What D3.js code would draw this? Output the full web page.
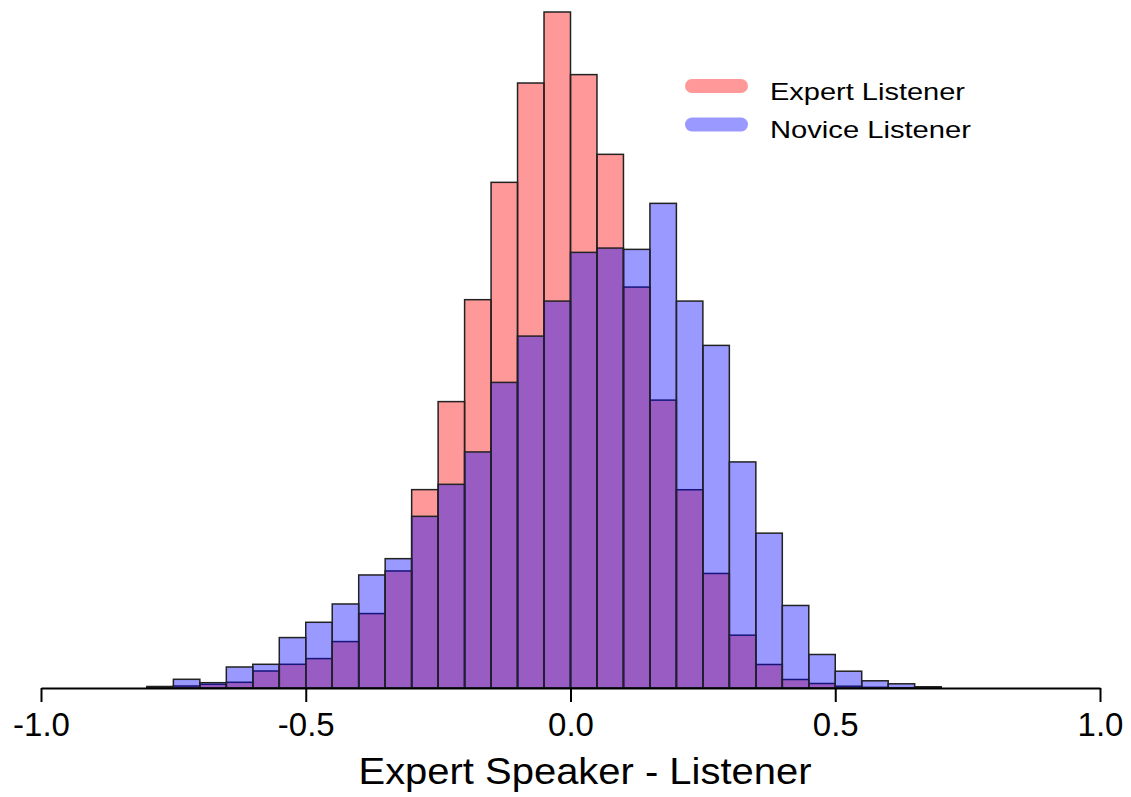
<!DOCTYPE html>
<html>
<head>
<meta charset="utf-8">
<script src="https://cdn.jsdelivr.net/npm/d3@7"></script>
<style>
  html, body { margin: 0; padding: 0; background: #fff; }
  text { font-family: "Liberation Sans", Arial, sans-serif; fill: #000; }
</style>
</head>
<body>
<svg id="chart" width="1131" height="797"></svg>
<script>
// Lower edges of histogram bins (width 0.05)
const binStarts = [-0.80, -0.75, -0.70, -0.65, -0.60, -0.55, -0.50, -0.45, -0.40, -0.35,
                   -0.30, -0.25, -0.20, -0.15, -0.10, -0.05, 0.00, 0.05, 0.10, 0.15,
                    0.20, 0.25, 0.30, 0.35, 0.40, 0.45, 0.50, 0.55, 0.60, 0.65];
const binWidth = 0.05;
// Bar heights (relative frequency units)
const expertListener = [1.5, 2, 3.7, 5.7, 17, 23.7, 29.4, 46.4, 74.4, 117,
                        198.3, 286.3, 388.2, 505.5, 604.8, 675.8, 613.2, 533.5, 400.8, 287.8,
                        198.2, 114.5, 52.8, 23.5, 8.5, 4.5, 1.8, 0.7, 0.3, 1.0];
const noviceListener = [1.0, 8.7, 5.3, 21, 23.7, 50.4, 65.7, 84, 113, 129.3,
                        171.6, 203.6, 236, 305.5, 351.8, 386.8, 435.5, 439.8, 438.5, 484.5,
                        386.8, 342.5, 226, 154.8, 82.5, 33.5, 16.8, 7.2, 4.2, 1.2];
const xTicks = [-1.0, -0.5, 0.0, 0.5, 1.0];
const seriesNames = ["Expert Listener", "Novice Listener"];
const seriesColors = ["rgba(255,0,0,0.4)", "rgba(0,0,255,0.4)"];
const legendColors = ["#ff9999", "#9999ff"];
const xLabel = "Expert Speaker - Listener";

const svg = d3.select("#chart");
const x = d3.scaleLinear().domain([-1, 1]).range([41, 1100]);
const y = d3.scaleLinear().domain([0, 675.8]).range([688, 12]);

const series = [expertListener, noviceListener];
series.forEach((vals, si) => {
  svg.append("g")
    .selectAll("rect")
    .data(binStarts.map((b, i) => ({ x0: b, x1: b + binWidth, v: vals[i] })))
    .join("rect")
    .attr("x", d => x(d.x0))
    .attr("width", d => x(d.x1) - x(d.x0))
    .attr("y", d => y(d.v))
    .attr("height", d => y(0) - y(d.v))
    .attr("fill", seriesColors[si])
    .attr("stroke", "#222")
    .attr("stroke-width", 1.5);
});

// Axis
const axis = d3.axisBottom(x)
  .tickValues(xTicks)
  .tickFormat(d => d3.format(".1f")(d).replace("\u2212", "-"))
  .tickSize(14)
  .tickSizeOuter(0);
const gAxis = svg.append("g").attr("transform", `translate(0,${y(0)})`).call(axis);
gAxis.select(".domain").attr("stroke", "#000").attr("stroke-width", 2);
gAxis.selectAll(".tick line").attr("stroke", "#000").attr("stroke-width", 2);
gAxis.selectAll(".tick text")
  .attr("y", 48).attr("dy", 0)
  .style("font-size", "33px")
  .style("font-family", '"Liberation Sans", Arial, sans-serif')
  .attr("fill", "#000");

// X label
svg.append("text")
  .attr("x", 585).attr("y", 784)
  .attr("text-anchor", "middle")
  .style("font-size", "36px")
  .attr("textLength", 453)
  .attr("lengthAdjust", "spacingAndGlyphs")
  .text(xLabel);

// Legend
const legY = [86, 124.5];
seriesNames.forEach((name, i) => {
  svg.append("line")
    .attr("x1", 692).attr("x2", 741)
    .attr("y1", legY[i]).attr("y2", legY[i])
    .attr("stroke", legendColors[i])
    .attr("stroke-width", 14)
    .attr("stroke-linecap", "round");
  svg.append("text")
    .attr("x", 770).attr("y", legY[i] + 13.5)
    .style("font-size", "24px")
    .attr("textLength", i === 0 ? 195 : 201)
    .attr("lengthAdjust", "spacingAndGlyphs")
    .text(name);
});
</script>
</body>
</html>
